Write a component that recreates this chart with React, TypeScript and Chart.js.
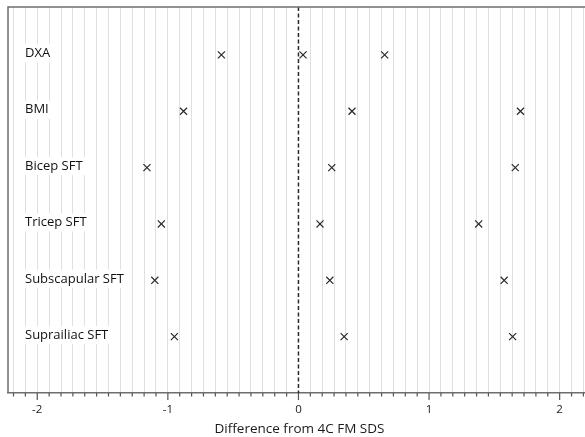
import React, { useEffect, useRef } from "react";
import { Chart, registerables } from "chart.js";

Chart.register(...registerables);

const categories = ["DXA", "BMI", "Bicep SFT", "Tricep SFT", "Subscapular SFT", "Suprailiac SFT"];
const lowerLimit = [-0.59, -0.88, -1.16, -1.05, -1.1, -0.95];
const meanBias = [0.035, 0.41, 0.255, 0.165, 0.24, 0.35];
const upperLimit = [0.66, 1.7, 1.66, 1.38, 1.575, 1.64];
const majorTicks = [-2, -1, 0, 1, 2];
const minorPerUnit = 11;
const xTitle = "Difference from 4C FM SDS";

const X_MIN = -2.224;
const X_MAX = 2.24;
const FONT = "'Open Sans', 'DejaVu Sans', sans-serif";

function rowY(i: number) {
  return categories.length - i;
}

export default function App() {
  const ref = useRef<HTMLCanvasElement | null>(null);

  useEffect(() => {
    if (!ref.current) return;
    const mk = (vals: number[]) => vals.map((v, i) => ({ x: v, y: rowY(i) }));
    const pointStyle = {
      pointStyle: "crossRot" as const,
      pointRadius: 5,
      pointBorderColor: "#2a2a2a",
      pointBackgroundColor: "#2a2a2a",
      pointBorderWidth: 1.2,
      showLine: false,
    };

    const decor = {
      id: "decor",
      beforeDatasetsDraw(chart: any) {
        const { ctx, chartArea: a, scales } = chart;
        const xs = scales.x;
        const ys = scales.y;
        ctx.save();
        // zero dashed line
        const x0 = xs.getPixelForValue(0);
        ctx.strokeStyle = "#2a2a2a";
        ctx.lineWidth = 1.5;
        ctx.setLineDash([4, 2.5]);
        ctx.beginPath();
        ctx.moveTo(x0, a.top);
        ctx.lineTo(x0, a.bottom);
        ctx.stroke();
        ctx.setLineDash([]);
        // category labels
        ctx.font = `13px ${FONT}`;
        ctx.textBaseline = "middle";
        ctx.textAlign = "left";
        categories.forEach((c, i) => {
          const y = ys.getPixelForValue(rowY(i)) - 1.5;
          const w = ctx.measureText(c).width;
          ctx.fillStyle = "#ffffff";
          ctx.fillRect(23, y - 9, w + 6, 18);
          ctx.fillStyle = "#111111";
          ctx.fillText(c, 25, y);
        });
        // frame: top and left
        ctx.strokeStyle = "#6e6e6e";
        ctx.lineWidth = 1.5;
        ctx.beginPath();
        ctx.moveTo(a.left, a.bottom);
        ctx.lineTo(a.left, a.top);
        ctx.lineTo(a.right + 20, a.top);
        ctx.stroke();
        // tick marks
        ctx.strokeStyle = "#555555";
        ctx.lineWidth = 1.2;
        xs.ticks.forEach((t: any) => {
          const px = xs.getPixelForValue(t.value);
          const major = majorTicks.some((m) => Math.abs(m - t.value) < 1e-6);
          ctx.beginPath();
          ctx.moveTo(px, a.bottom);
          ctx.lineTo(px, a.bottom + (major ? 7 : 3.5));
          ctx.stroke();
        });
        ctx.restore();
      },
    };

    const chart = new Chart(ref.current, {
      type: "scatter",
      data: {
        datasets: [
          { label: "Lower", data: mk(lowerLimit), ...pointStyle },
          { label: "Mean", data: mk(meanBias), ...pointStyle },
          { label: "Upper", data: mk(upperLimit), ...pointStyle },
        ],
      },
      options: {
        animation: false,
        responsive: true,
        maintainAspectRatio: false,
        layout: { padding: { left: 8, top: 7, right: 9, bottom: 0 } },
        plugins: { legend: { display: false }, tooltip: { enabled: false } },
        scales: {
          x: {
            type: "linear",
            min: X_MIN,
            max: X_MAX,
            afterBuildTicks(scale: any) {
              const lo = Math.ceil(X_MIN * minorPerUnit);
              const hi = Math.floor(X_MAX * minorPerUnit);
              const t: any[] = [];
              for (let k = lo; k <= hi; k++) t.push({ value: k / minorPerUnit });
              scale.ticks = t;
            },
            afterFit(scale: any) {
              scale.height = 44;
            },
            grid: {
              drawTicks: false,
              color: (ctx: any) =>
                ctx.tick && Math.abs(ctx.tick.value) < 1e-6 ? "rgba(0,0,0,0)" : "#e0e0e0",
              lineWidth: 1,
            },
            border: { display: true, color: "#6e6e6e", width: 1.5 },
            ticks: {
              padding: 10,
              autoSkip: false,
              maxRotation: 0,
              color: "#222222",
              font: { family: FONT, size: 11.5 },
              callback: (v: any) => {
                const n = Number(v);
                return majorTicks.some((m) => Math.abs(m - n) < 1e-6) ? String(Math.round(n)) : "";
              },
            },
            title: {
              display: true,
              text: xTitle,
              color: "#1a1a1a",
              font: { family: FONT, size: 13.5 },
              padding: { top: 4, bottom: 0 },
            },
          },
          y: {
            type: "linear",
            display: false,
            min: 0,
            max: 6.85,
          },
        },
      },
      plugins: [decor],
    });
    return () => chart.destroy();
  }, []);

  return (
    <div style={{ position: "absolute", left: 0, top: 0, width: 585, height: 437, overflow: "hidden", background: "#fff" }}>
      <div style={{ position: "relative", width: 600, height: 437 }}>
        <canvas ref={ref} />
      </div>
    </div>
  );
}
